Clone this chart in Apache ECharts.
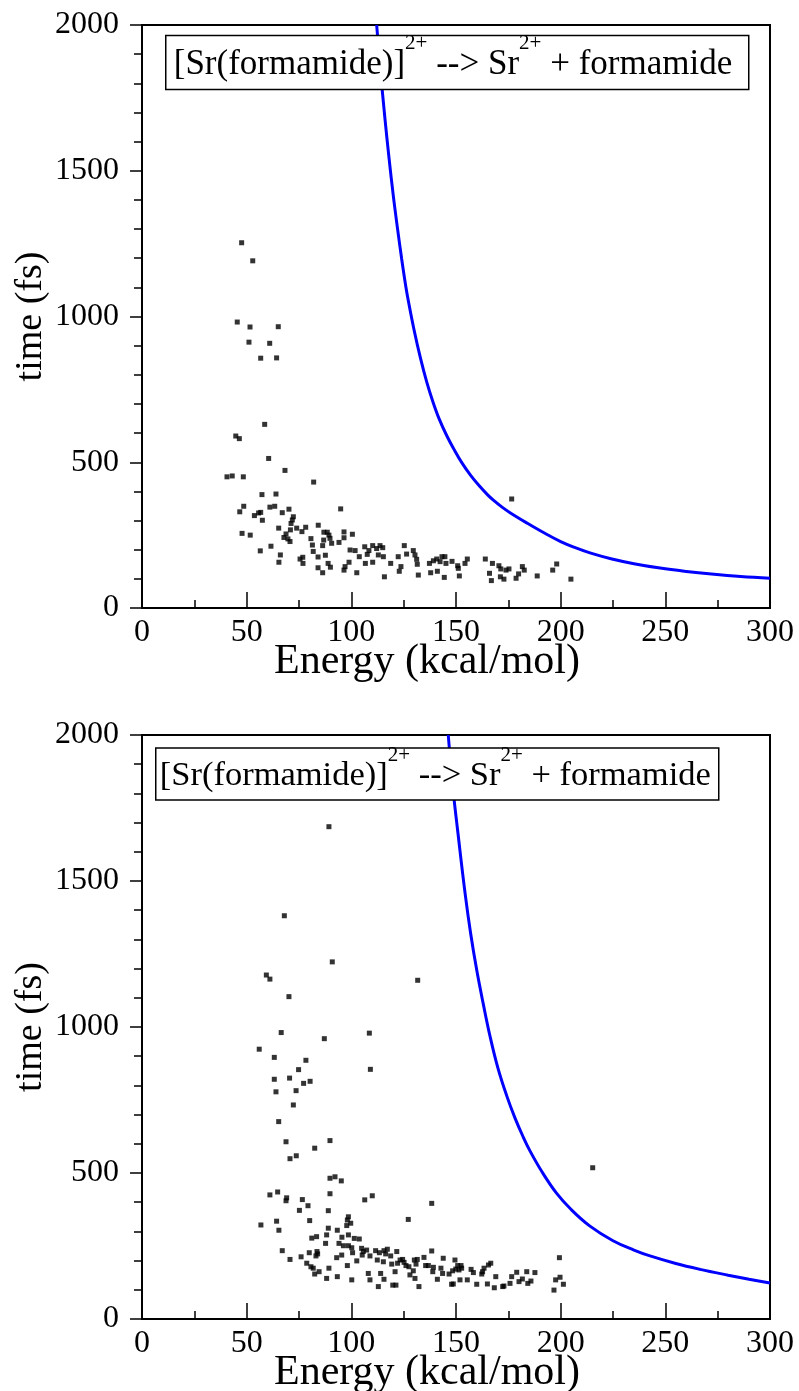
<!DOCTYPE html>
<html>
<head>
<meta charset="utf-8">
<script src="https://cdn.jsdelivr.net/npm/echarts/dist/echarts.min.js"></script>
<style>
html,body{margin:0;padding:0;background:#fff;}
#chart{width:799px;height:1391px;}
</style>
</head>
<body>
<div id="chart"></div>
<script>
// ---- data (Energy kcal/mol, time fs) ----
const topScatter = [
[47.6,1253],[52.9,1191],[45.5,981],[51.6,964],[65.1,965],[51.1,912],[61.0,908],[56.7,857],[64.3,858],[58.6,630],
[44.8,590],[46.5,581],[60.5,513],[68.3,472],[82.0,432],[40.6,450],[43.1,453],[48.4,450],[57.3,389],[64.0,391],
[48.6,349],[46.7,330],[61.1,346],[63.4,349],[70.2,339],[94.9,340],[67.0,327],[53.7,317],[55.7,326],[56.7,328],
[57.5,301],[72.3,313],[71.8,302],[71.2,290],[65.3,274],[73.9,274],[78.2,277],[70.9,268],[76.4,262],[84.2,284],
[47.8,256],[51.7,250],[68.8,254],[67.8,242],[69.7,237],[70.7,228],[80.7,238],[86.9,260],[88.5,260],[89.3,250],
[86.8,233],[89.8,239],[81.4,216],[86.3,214],[90.6,222],[94.1,225],[96.5,241],[96.5,261],[56.5,196],[61.6,212],
[81.8,194],[66.1,182],[65.4,157],[75.5,168],[76.9,153],[76.8,174],[84.1,175],[87.6,181],[88.9,153],[90.0,140],
[84.1,138],[86.3,121],[96.5,130],[97.0,142],[98.9,157],[99.4,199],
[100.5,253],[101.8,197],[102.6,121],[103.8,176],[106.4,210],[106.7,153],[107.6,184],[108.4,197],[110.2,214],[110.2,157],
[112.1,204],[112.9,182],[113.7,214],[115.0,207],[115.3,176],[115.8,107],[118.8,153],[122.4,176],[123.7,142],[122.9,126],
[125.3,214],[126.4,185],[129.6,197],[130.4,182],[131.2,167],[131.5,150],[132.0,113],[137.3,153],[137.9,121],[139.2,162],
[140.8,168],[141.1,126],[142.4,159],[143.3,176],[144.7,176],[144.4,105],[145.2,153],[148.1,160],[150.8,145],[151.1,136],
[151.6,110],[154.3,153],[155.4,168],[164.0,168],[166.0,119],[166.9,94],[167.4,153],[170.5,145],[171.4,134],[171.2,107],
[172.9,99],[173.9,130],[175.3,134],[176.6,374],[178.7,102],[179.9,117],[181.7,142],[182.6,130],[188.8,110],[196.2,130],
[198.1,151],[204.9,99]
];
const bottomScatter = [
[89.3,1686],[68.0,1381],[90.9,1223],[59.4,1178],[61.1,1164],[70.2,1104],[87.1,960],[66.5,981],[56.0,924],[63.2,896],
[78.3,886],[74.8,854],[63.2,821],[70.5,825],[80.3,814],[77.2,807],[64.0,778],[73.6,782],[72.3,733],
[131.7,1160],[108.6,979],[109.1,855],
[65.3,676],[68.8,607],[89.8,611],[70.7,549],[73.7,559],[82.5,585],[89.8,482],[92.2,487],[95.2,473],[89.8,429],
[61.1,425],[64.8,435],[68.8,405],[69.1,415],[76.6,409],[75.2,372],[79.3,388],[89.0,371],[56.8,322],[64.3,335],
[65.4,304],[80.1,337],[89.0,311],[93.3,304],[81.1,277],[83.4,282],[87.7,259],[88.2,288],[95.5,280],[94.1,259],
[96.2,251],[97.8,320],[98.1,339],[98.6,288],[67.0,234],[70.7,204],[76.0,213],[79.9,227],[83.6,231],[83.9,223],
[83.1,216],[78.7,191],[80.7,179],[81.8,174],[82.5,154],[84.6,162],[88.2,139],[89.3,174],[93.0,210],[95.4,219],
[93.3,145],[98.1,183],
[98.6,251],[98.6,350],[99.7,328],[101.4,276],[103.8,274],[100.2,244],[100.6,227],[102.6,199],[100.2,134],[104.9,242],
[105.7,231],[105.2,219],[107.3,236],[106.4,408],[110.0,422],[108.9,216],[108.1,156],[108.9,134],[111.6,234],[112.4,202],
[113.4,227],[114.0,156],[112.9,111],[115.3,196],[115.6,136],[115.6,234],[116.4,223],[117.2,239],[118.8,216],[119.8,116],
[119.3,188],[120.9,162],[121.3,116],[121.7,231],[122.1,191],[123.3,202],[124.5,204],[125.2,194],[126.1,183],[127.2,341],
[127.5,179],[128.0,151],[129.6,165],[130.1,202],[130.9,188],[131.5,204],[130.4,139],[132.3,111],[134.7,211],[135.5,183],
[136.8,183],[138.4,396],[138.4,233],[139.2,177],[138.9,162],[141.1,136],[142.8,174],[143.9,208],[143.6,156],[146.7,154],
[147.9,119],[148.7,120],[148.4,165],[149.5,202],[149.9,171],[150.8,183],[151.4,168],[152.4,183],[152.7,174],[151.9,134],
[155.4,134],[157.2,170],[158.3,159],[159.9,119],[162.3,154],[162.7,162],[163.4,174],[165.0,120],[165.5,185],[166.6,191],
[168.3,107],[169.0,145],[172.3,111],[172.9,113],[175.8,122],[176.6,145],[179.0,160],[180.1,128],[181.7,137],[183.8,162],
[184.3,122],[185.8,130],[187.7,159],[199.4,210],[197.6,134],[199.7,143],[201.3,119],[196.8,99],[215.3,518]
];
const topCurve = [
[112.1,2000],[114,1837],[116,1683],[118,1544],[120,1417],[122,1305],[124,1200],[126,1104],[127.2,1055],
[130,953],[133,858],[136,776],[139,707],[142,648],[145.6,591],[149,545],[153,496],[157,455],[161,420],
[165,389],[168,369],[172,346],[176,326],[184,291],[192,258],[200,228],[207,207],[214,189],[224,169],
[235,152],[247.5,137],[260,125.5],[272,116.5],[286,108],[300,102]
];
const bottomCurve = [
[146.3,2000],[148.5,1820],[151,1660],[154.3,1460],[157,1320],[159.9,1195],[163,1080],[166.2,970],
[170,860],[174.2,765],[178.2,688],[182,625],[185.4,575],[191,505],[198.1,430],[205,375],[214,318],
[225,268],[235,236],[242.7,216],[255,190],[266.6,170],[280,150],[290,136],[300,123]
];
const xTicks = {min: 0, max: 300, interval: 50};
const yTicks = {min: 0, max: 2000, interval: 500};
const xTitle = 'Energy (kcal/mol)';
const yTitle = 'time (fs)';
const boxText = '{n|[Sr(formamide)]}{s|2+}{n| --> Sr}{s|2+}{n| + formamide}';

const FONT = '"Liberation Serif", "DejaVu Serif", serif';
const grids = [
  {left: 142, top: 25, width: 628, height: 583},
  {left: 142, top: 735, width: 628, height: 584}
];
function xAxis(i) {
  return {
    gridIndex: i, type: 'value', min: xTicks.min, max: xTicks.max, interval: xTicks.interval,
    axisLine: {show: true, onZero: false, lineStyle: {color: '#000', width: 2}},
    axisTick: {show: true, inside: true, length: 16, lineStyle: {color: '#000', width: 1.5}},
    minorTick: {show: true, splitNumber: 2, length: 8, lineStyle: {color: '#000', width: 1.5}},
    splitLine: {show: false},
    axisLabel: {color: '#000', fontSize: 32, fontFamily: FONT, margin: 9},
    name: xTitle, nameLocation: 'middle', nameGap: 33, nameMoveOverlap: false,
    nameTextStyle: {color: '#000', fontSize: 42, fontFamily: FONT, padding: [0, 58, 0, 0]}
  };
}
function yAxis(i) {
  return {
    gridIndex: i, type: 'value', min: yTicks.min, max: yTicks.max, interval: yTicks.interval,
    axisLine: {show: true, onZero: false, lineStyle: {color: '#000', width: 2}},
    axisTick: {show: true, inside: false, length: 12, lineStyle: {color: '#000', width: 1.5}},
    minorTick: {show: true, splitNumber: 5, length: 8, lineStyle: {color: '#000', width: 1.5}},
    splitLine: {show: false},
    axisLabel: {color: '#000', fontSize: 32, fontFamily: FONT, margin: 23, formatter: v => String(v)},
    name: yTitle, nameLocation: 'middle', nameGap: 92, nameRotate: 90, nameMoveOverlap: false,
    nameTextStyle: {color: '#000', fontSize: 38, fontFamily: FONT}
  };
}
function box(x, y, w, h, pad, fs, ty, lh) {
  return {
    type: 'group', left: x, top: y,
    children: [
      {type: 'rect', shape: {x: 0, y: 0, width: w, height: h},
       style: {fill: '#fff', stroke: '#000', lineWidth: 1.5}, z: 10},
      {type: 'text', x: pad, y: ty, z: 11,
       style: {text: boxText, fill: '#000', verticalAlign: 'middle', align: 'left',
         rich: {
           n: {fontSize: fs, fontFamily: FONT, fill: '#000', lineHeight: lh, verticalAlign: 'bottom'},
           s: {fontSize: 21, fontFamily: FONT, fill: '#000', lineHeight: 22, verticalAlign: 'top'}
         }}}
    ]
  };
}
const chart = echarts.init(document.getElementById('chart'), null, {renderer: 'canvas'});
chart.setOption({
  animation: false,
  backgroundColor: '#fff',
  grid: grids.map(g => Object.assign({show: true, borderColor: '#000', borderWidth: 2,
    backgroundColor: 'transparent', containLabel: false, outerBoundsMode: 'none'}, g)),
  xAxis: [xAxis(0), xAxis(1)],
  yAxis: [yAxis(0), yAxis(1)],
  series: [
    {type: 'line', xAxisIndex: 0, yAxisIndex: 0, data: topCurve, showSymbol: false, smooth: 0.4,
     lineStyle: {color: '#0000ff', width: 3}, clip: true, z: 3},
    {type: 'scatter', xAxisIndex: 0, yAxisIndex: 0, data: topScatter, symbol: 'rect', symbolSize: 5,
     itemStyle: {color: '#000'}, z: 4},
    {type: 'line', xAxisIndex: 1, yAxisIndex: 1, data: bottomCurve, showSymbol: false, smooth: 0.4,
     lineStyle: {color: '#0000ff', width: 3}, clip: true, z: 3},
    {type: 'scatter', xAxisIndex: 1, yAxisIndex: 1, data: bottomScatter, symbol: 'rect', symbolSize: 5,
     itemStyle: {color: '#000'}, z: 4}
  ],
  graphic: [box(165, 33, 583, 54, 8, 35, 22, 49), box(155, 745, 563, 52, 4, 34.5, 21, 48)]
});
</script>
</body>
</html>
